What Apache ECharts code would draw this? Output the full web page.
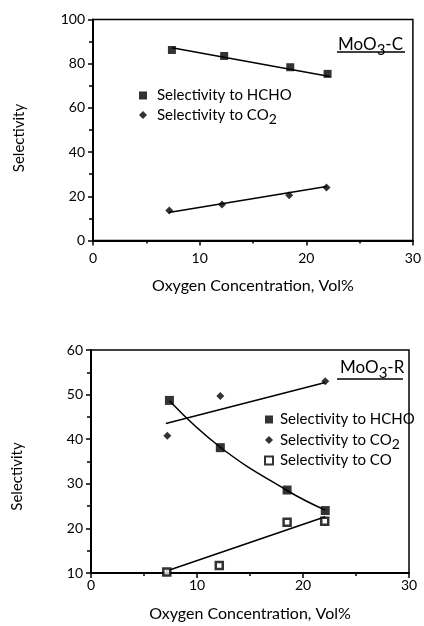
<!DOCTYPE html>
<html>
<head>
<meta charset="utf-8">
<script src="https://cdn.jsdelivr.net/npm/echarts@6/dist/echarts.min.js"></script>
<style>
  html, body { margin: 0; padding: 0; background: #fff; }
  #chart { width: 424px; height: 626px; }
</style>
</head>
<body>
<div id="chart"></div>
<script>
// MoO3-C: selectivity vs. oxygen concentration
const oxyHchoC = [7.4, 12.3, 18.5, 22.0];
const hchoC    = [86.2, 83.5, 78.4, 75.4];
const oxyCo2C  = [7.15, 12.1, 18.4, 21.9];
const co2C     = [13.6, 16.3, 20.5, 24.0];
// fitted trend lines (MoO3-C)
const fitHchoCx = [7.4, 22.2];
const fitHchoCy = [87.2, 74.2];
const fitCo2Cx  = [7.1, 21.9];
const fitCo2Cy  = [12.7, 24.4];

// MoO3-R: selectivity vs. oxygen concentration
const oxyHchoR = [7.4, 12.2, 18.5, 22.1];
const hchoR    = [48.7, 38.1, 28.6, 24.0];
const oxyCo2R  = [7.2, 12.2, 22.1];
const co2R     = [40.8, 49.7, 53.0];
const oxyCoR   = [7.15, 12.1, 18.5, 22.05];
const coR      = [10.2, 11.7, 21.4, 21.6];
// fitted trend lines (MoO3-R)
const fitHchoRx = [7.4, 12.2, 18.5, 22.1];
const fitHchoRy = [48.6, 38.2, 28.5, 24.1];
const fitCo2Rx  = [7.06, 22.1];
const fitCo2Ry  = [43.5, 52.7];
const fitCoRx   = [7.06, 22.1];
const fitCoRy   = [10.4, 22.6];

// axis ranges and labels
const xRange = [0, 30, 10];
const yRangeC = [0, 100, 20];
const yRangeR = [10, 60, 10];
const xName = 'Oxygen Concentration, Vol%';
const yName = 'Selectivity';
const nameHcho = 'Selectivity to HCHO';
const nameCo2 = 'Selectivity to CO2';
const nameCo = 'Selectivity to CO';

const pts = (xs, ys) => xs.map((x, i) => [x, ys[i]]);

const FONT = 'Lato';
const INK = '#000';

function xAxisCfg(gridIndex, labelMargin, nameGap) {
  return {
    type: 'value', gridIndex,
    min: xRange[0], max: xRange[1], interval: xRange[2],
    name: xName, nameLocation: 'middle', nameGap,
    nameTextStyle: { fontFamily: FONT, fontSize: 16, color: INK },
    axisLine: { show: true, onZero: false, lineStyle: { color: INK, width: 2 } },
    axisTick: { show: true, length: 5, lineStyle: { color: INK, width: 1.5 } },
    minorTick: { show: true, splitNumber: 2, length: 3, lineStyle: { color: INK, width: 1.5 } },
    axisLabel: { margin: labelMargin, fontFamily: FONT, fontSize: 14, color: INK },
    splitLine: { show: false }
  };
}

function yAxisCfg(gridIndex, range, namePadRight) {
  return {
    type: 'value', gridIndex,
    min: range[0], max: range[1], interval: range[2],
    name: yName, nameLocation: 'middle', nameGap: 66,
    nameTextStyle: { fontFamily: FONT, fontSize: 15, color: INK, padding: [0, namePadRight, 0, 0] },
    axisLine: { show: true, onZero: false, lineStyle: { color: INK, width: 2 } },
    axisTick: { show: true, length: 5, lineStyle: { color: INK, width: 1.5 } },
    minorTick: { show: true, splitNumber: 2, length: 4, lineStyle: { color: INK, width: 1.5 } },
    axisLabel: { margin: 8, fontFamily: FONT, fontSize: 14, color: INK },
    splitLine: { show: false }
  };
}

function scatter(name, xi, sym, size, data, extra) {
  return Object.assign({
    type: 'scatter', name, xAxisIndex: xi, yAxisIndex: xi,
    symbol: sym, symbolSize: size, data,
    itemStyle: { color: INK },
    z: 5
  }, extra || {});
}

function fit(xi, data, smooth) {
  return {
    type: 'line', xAxisIndex: xi, yAxisIndex: xi,
    data, showSymbol: false, smooth: smooth || false,
    lineStyle: { color: INK, width: 1.5 },
    silent: true, z: 3
  };
}

// legend text: every row gets the same box height, the "2" of CO2 sits low
function legendRich(padLeft) {
  return {
    n: { fontFamily: FONT, fontSize: 15, color: INK, lineHeight: 14, padding: [3, 0, 3, padLeft] },
    s: { fontFamily: FONT, fontSize: 14, color: INK, lineHeight: 12, padding: [8, 0, 0, 0] }
  };
}
function legendText(name) {
  if (name === nameCo2) return '{n|Selectivity to CO}{s|2}';
  return '{n|' + name + '}';
}

function titleText(label, left, top) {
  return {
    type: 'text', left, top,
    style: {
      text: '{m|MoO}{s|3}{m|-' + label + '}',
      rich: {
        m: { fontFamily: FONT, fontSize: 17, fill: INK, lineHeight: 17 },
        s: { fontFamily: FONT, fontSize: 15, fill: INK, lineHeight: 14, padding: [12, 0, 0, 0] }
      }
    }
  };
}

const chart = echarts.init(document.getElementById('chart'), null, { renderer: 'canvas' });
chart.setOption({
  backgroundColor: '#fff',
  animation: false,
  grid: [
    { left: 93, top: 19.5, width: 320, height: 221, show: true, borderColor: INK, borderWidth: 1.5, backgroundColor: 'transparent' },
    { left: 91, top: 350, width: 318, height: 223, show: true, borderColor: INK, borderWidth: 1.5, backgroundColor: 'transparent' }
  ],
  xAxis: [xAxisCfg(0, 11, 37), xAxisCfg(1, 5, 33)],
  yAxis: [yAxisCfg(0, yRangeC, 16), yAxisCfg(1, yRangeR, 30)],
  legend: [
    {
      orient: 'vertical', left: 134, top: 80, itemWidth: 8, itemHeight: 8, itemGap: -2,
      selectedMode: false,
      data: [{ name: nameHcho, icon: 'rect' }, { name: nameCo2, icon: 'diamond' }],
      formatter: legendText,
      textStyle: { rich: legendRich(5) }
    },
    {
      orient: 'vertical', left: 259, top: 404, itemWidth: 8, itemHeight: 8, itemGap: -1,
      selectedMode: false,
      data: [{ name: nameHcho, icon: 'rect' }, { name: nameCo2, icon: 'diamond' }, { name: nameCo, icon: 'rect' }],
      formatter: legendText,
      textStyle: { rich: legendRich(2) }
    }
  ],
  series: [
    scatter(nameHcho, 0, 'rect', 8, pts(oxyHchoC, hchoC)),
    scatter(nameCo2, 0, 'diamond', 8, pts(oxyCo2C, co2C)),
    fit(0, pts(fitHchoCx, fitHchoCy)),
    fit(0, pts(fitCo2Cx, fitCo2Cy)),

    scatter(nameHcho, 1, 'rect', 9, pts(oxyHchoR, hchoR)),
    scatter(nameCo2, 1, 'diamond', 8, pts(oxyCo2R, co2R)),
    scatter(nameCo, 1, 'rect', 7, pts(oxyCoR, coR), { itemStyle: { color: '#fff', borderColor: INK, borderWidth: 2.5 } }),
    fit(1, pts(fitHchoRx, fitHchoRy), 0.45),
    fit(1, pts(fitCo2Rx, fitCo2Ry)),
    fit(1, pts(fitCoRx, fitCoRy))
  ],
  graphic: [
    titleText('C', 338, 31),
    { type: 'line', shape: { x1: 337, y1: 52, x2: 405, y2: 52 }, style: { stroke: INK, lineWidth: 1.5 } },
    titleText('R', 340, 354),
    { type: 'line', shape: { x1: 337, y1: 379, x2: 403, y2: 379 }, style: { stroke: INK, lineWidth: 1.5 } }
  ]
});
</script>
</body>
</html>
